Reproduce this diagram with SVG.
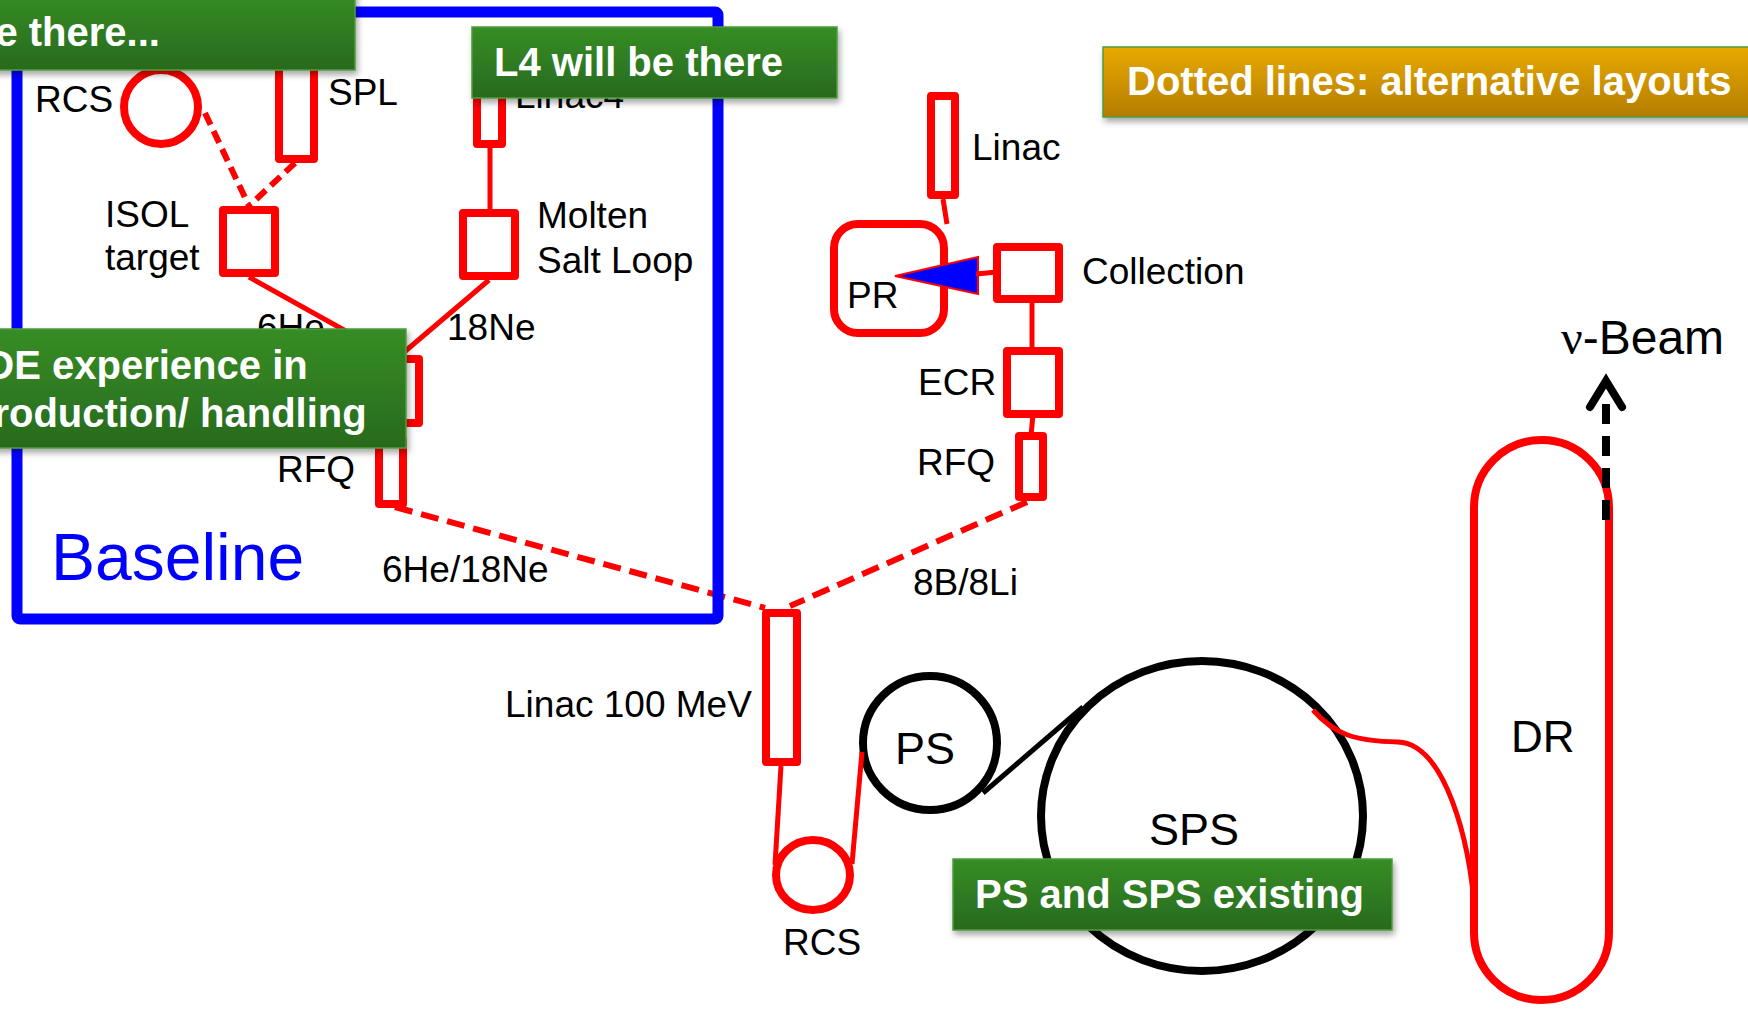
<svg xmlns="http://www.w3.org/2000/svg" width="1748" height="1010" viewBox="0 0 1748 1010">
  <defs>
    <linearGradient id="gGreen" x1="0" y1="0" x2="0" y2="1">
      <stop offset="0" stop-color="#368d25"/>
      <stop offset="1" stop-color="#286a1e"/>
    </linearGradient>
    <linearGradient id="gOrange" x1="0" y1="0" x2="0" y2="1">
      <stop offset="0" stop-color="#e8aa00"/>
      <stop offset="1" stop-color="#b47c00"/>
    </linearGradient>
    <filter id="shadow" x="-10%" y="-20%" width="130%" height="160%">
      <feDropShadow dx="2" dy="4" stdDeviation="3" flood-color="#000" flood-opacity="0.35"/>
    </filter>
  </defs>
  <style>
    .lbl { font-family: "Liberation Sans", Arial, sans-serif; font-size: 37px; fill: #000; }
    .big { font-size: 45px; }
    .comp { fill: none; stroke: #ff0000; stroke-width: 8; stroke-linejoin: round; }
    .ring { fill: none; stroke: #000; stroke-width: 8; }
    .feed { fill: none; stroke: #ff0000; stroke-width: 5; }
    .alt { fill: none; stroke: #ff0000; stroke-width: 6; stroke-dasharray: 18 9; }
    .altshort { fill: none; stroke: #ff0000; stroke-width: 6; stroke-dasharray: 13 7; }
    .note rect { stroke: #4f9c3f; stroke-width: 1.5; filter: url(#shadow); }
    .green { fill: url(#gGreen); }
    .orange { fill: url(#gOrange); stroke: #d8a21a; }
    .note text { font-family: "Liberation Sans", Arial, sans-serif; font-weight: bold; font-size: 40px; fill: #fff; }
  </style>

  <rect x="0" y="0" width="1748" height="1010" fill="#fff"/>

  <g id="rcs-top">
    <circle class="comp" cx="161" cy="107" r="37"/>
    <text class="lbl" x="35" y="112">RCS</text>
  </g>

  <g id="spl">
    <rect class="comp" x="279" y="40" width="35" height="119"/>
    <text class="lbl" x="328" y="105">SPL</text>
  </g>

  <g id="isol-target">
    <rect class="comp" x="223" y="210" width="52" height="63"/>
    <text class="lbl" x="105" y="227">ISOL</text>
    <text class="lbl" x="105" y="270">target</text>
  </g>

  <g id="linac4">
    <rect class="comp" x="477" y="60" width="25" height="84"/>
    <text class="lbl" x="515" y="108">Linac4</text>
  </g>

  <g id="molten-salt-loop">
    <rect class="comp" x="463" y="213" width="52" height="63"/>
    <text class="lbl" x="537" y="228">Molten</text>
    <text class="lbl" x="537" y="273">Salt Loop</text>
  </g>

  <g id="ion-source">
    <rect class="comp" x="373" y="359" width="46" height="64"/>
    <text class="lbl" x="257" y="340">6He</text>
    <text class="lbl" x="447" y="340">18Ne</text>
  </g>

  <g id="rfq-baseline">
    <rect class="comp" x="379" y="440" width="24" height="64"/>
    <text class="lbl" x="277" y="482">RFQ</text>
    <text class="lbl" x="382" y="582">6He/18Ne</text>
  </g>

  <g id="linac">
    <rect class="comp" x="931" y="96" width="24" height="99"/>
    <text class="lbl" x="972" y="160">Linac</text>
  </g>

  <g id="pr">
    <rect class="comp" x="834" y="224" width="110" height="109" rx="24"/>
    <text class="lbl" x="847" y="308">PR</text>
    <polygon points="895,276 978,257 978,294" fill="#0000ff" stroke="#ff0000" stroke-width="2"/>
  </g>

  <g id="collection">
    <rect class="comp" x="997" y="247" width="62" height="52"/>
    <text class="lbl" x="1082" y="284">Collection</text>
  </g>

  <g id="ecr">
    <rect class="comp" x="1007" y="351" width="52" height="63"/>
    <text class="lbl" x="918" y="395">ECR</text>
  </g>

  <g id="rfq-alt">
    <rect class="comp" x="1019" y="436" width="24" height="61"/>
    <text class="lbl" x="917" y="475">RFQ</text>
    <text class="lbl" x="913" y="595">8B/8Li</text>
  </g>

  <g id="linac-100mev">
    <rect class="comp" x="766" y="613" width="31" height="149"/>
    <text class="lbl" x="505" y="717">Linac 100 MeV</text>
  </g>

  <g id="rcs">
    <ellipse class="comp" cx="813" cy="875" rx="37" ry="35"/>
    <text class="lbl" x="783" y="955">RCS</text>
  </g>

  <g id="ps">
    <circle class="ring" cx="930" cy="743" r="67" stroke-width="7"/>
    <text class="lbl big" x="895" y="764">PS</text>
  </g>

  <g id="sps">
    <ellipse class="ring" cx="1202" cy="816" rx="161" ry="155"/>
    <text class="lbl big" x="1149" y="845">SPS</text>
  </g>

  <g id="dr">
    <rect class="comp" x="1474" y="440" width="135" height="560" rx="67.5"/>
    <text class="lbl" x="1511" y="752" style="font-size:44px">DR</text>
  </g>

  <g id="nu-beam">
    <text class="lbl" x="1561" y="354" style="font-size:48px"><tspan font-family="Liberation Serif, serif">ν</tspan>-Beam</text>
  </g>

  <!-- beam transfer lines -->
  <g id="connectors">
    <line class="altshort" x1="205" y1="113" x2="249" y2="206"/>
    <line class="altshort" x1="295" y1="163" x2="249" y2="206"/>
    <line class="feed" x1="249" y1="277" x2="396" y2="359"/>
    <line class="feed" x1="490" y1="148" x2="490" y2="213"/>
    <line class="feed" x1="489" y1="280" x2="396" y2="359"/>
    <line class="alt" x1="395" y1="507" x2="765" y2="608"/>
    <line class="alt" x1="1027" y1="502" x2="790" y2="606"/>
    <line class="feed" x1="943" y1="199" x2="947" y2="224"/>
    <line class="feed" x1="976" y1="274" x2="997" y2="272"/>
    <line class="feed" x1="1032" y1="303" x2="1032" y2="351"/>
    <line class="feed" x1="1033" y1="414" x2="1031" y2="436"/>
    <line class="feed" x1="781" y1="766" x2="775" y2="865"/>
    <line class="feed" x1="852" y1="864" x2="862" y2="752"/>
    <line x1="983" y1="793" x2="1083" y2="707" stroke="#000" stroke-width="5"/>
    <path class="feed" d="M1313,710 C1335,735 1355,741 1398,742 C1445,744 1470,840 1475,915"/>
    <line x1="1606" y1="520" x2="1606" y2="400" stroke="#000" stroke-width="8" stroke-dasharray="20 12"/>
    <polyline points="1590,407 1606,381 1622,407" fill="none" stroke="#000" stroke-width="8" stroke-linecap="round"/>
  </g>

  <g id="baseline-box">
    <rect x="17" y="12" width="701" height="607" rx="3" fill="none" stroke="#0000ff" stroke-width="11"/>
    <text class="lbl" x="51" y="580" style="font-size:66px;fill:#0000ff">Baseline</text>
  </g>

  <!-- annotation boxes -->
  <g id="note-top" class="note">
    <rect class="green" x="-10" y="-10" width="365" height="80"/>
    <text x="-29" y="46">be there...</text>
  </g>

  <g id="note-l4" class="note">
    <rect class="green" x="472" y="27" width="365" height="71"/>
    <text x="494" y="76">L4 will be there</text>
  </g>

  <g id="note-isolde" class="note">
    <rect class="green" x="-10" y="329" width="416" height="119"/>
    <text x="-108" y="379">ISOLDE experience in</text>
    <text x="-31" y="427">production/ handling</text>
  </g>

  <g id="note-ps-sps" class="note">
    <rect class="green" x="953" y="859" width="439" height="71"/>
    <text x="975" y="908">PS and SPS existing</text>
  </g>

  <g id="note-dotted" class="note">
    <rect class="orange" x="1103" y="47" width="660" height="70"/>
    <text x="1127" y="95">Dotted lines: alternative layouts</text>
  </g>
</svg>
